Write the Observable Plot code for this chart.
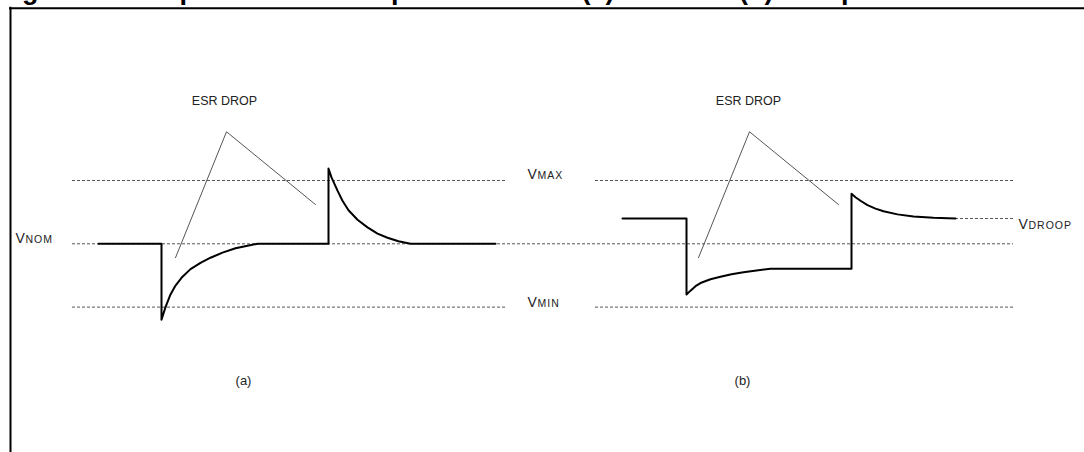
<!DOCTYPE html>
<html><head><meta charset="utf-8">
<script src="https://cdn.jsdelivr.net/npm/d3@7"></script>
<script src="https://cdn.jsdelivr.net/npm/@observablehq/plot@0.6"></script>
<style>
body{margin:0;background:#fff;overflow:hidden;}
#wrap{position:relative;width:1084px;height:452px;overflow:hidden;background:#fff;}
#title{position:absolute;left:-2px;top:-23.5px;font:bold 27px "Liberation Sans",Arial,sans-serif;line-height:27px;white-space:nowrap;color:#000;z-index:2;}
#chart{position:absolute;left:0;top:0;}
</style></head><body>
<div id="wrap">
<div id="title">Figure 12. Output transient response without (a) and with (b) droop</div>
<div id="chart"></div>
</div>
<script>
// ---- data (time in arbitrary units, voltage relative to VNOM, VMAX=+1, VMIN=-1) ----
const tA = [98,161,161,165,170,175,182,190,200,210,222,235,247,257,328,328,331,337,342,348,357,367,377,387,398,410,495];
const vA = [0,0,-1.2,-1.0,-0.8,-0.66,-0.52,-0.40,-0.30,-0.22,-0.14,-0.07,-0.03,0,0,1.19,1.05,0.84,0.68,0.53,0.38,0.26,0.16,0.095,0.04,0,0];
const tB = [622,686,686,690,695,700,710,720,731,743,756,770,851,851,855,860,867,875,883,897,913,933,955];
const vB = [0.40,0.40,-0.80,-0.74,-0.67,-0.62,-0.56,-0.52,-0.48,-0.45,-0.42,-0.395,-0.395,0.79,0.735,0.68,0.61,0.555,0.515,0.465,0.43,0.41,0.40];
const esrTA = [175,226,315], esrVA = [-0.22,1.77,0.62];
const esrTB = [698,749,838], esrVB = [-0.22,1.77,0.62];
const levelName = ["MAX","NOM","MIN","DROOP"];
const levelV = [1, 0, -1, 0.40];
const levelLabelT = [527, 15, 527, 1018];
const dashLevel = [1, 1, 0, -1, -1, 0.40];
const dashT1 = [72, 595, 72, 72, 595, 955];
const dashT2 = [507, 1013, 1013, 507, 1013, 1013];
const esrLabel = ["ESR DROP","ESR DROP"], esrLabelT = [224, 748], esrLabelV = [2.26, 2.26];
const panelLabel = ["(a)","(b)"], panelT = [243, 742], panelV = [-2.16, -2.16];
const frameTopV = 3.722, frameLeftT = 10;

// ---- build tables ----
const W = 1084, H = 452, pxPerV = 63.3, nomPx = 243.3;
const waveA = tA.map((t,i)=>({t, v:vA[i]}));
const waveB = tB.map((t,i)=>({t, v:vB[i]}));
const esrA = esrTA.map((t,i)=>({t, v:esrVA[i]}));
const esrB = esrTB.map((t,i)=>({t, v:esrVB[i]}));
const dashes = dashLevel.map((v,i)=>({v, t1:dashT1[i], t2:dashT2[i]}));
const labelDy = {MAX:-6, NOM:-5, MIN:-5, DROOP:6};
const font = "Liberation Sans, Arial, Helvetica, sans-serif";

const marks = [
  Plot.ruleY([frameTopV], {x1: frameLeftT - 1, x2: W, stroke: "#000", strokeWidth: 2}),
  Plot.ruleX([frameLeftT], {y1: frameTopV + 0.016, y2: (nomPx - H)/pxPerV, stroke: "#000", strokeWidth: 2}),
  Plot.ruleY(dashes, {y: "v", x1: "t1", x2: "t2", stroke: "#555", strokeWidth: 1, strokeDasharray: "3,2"}),
  Plot.line(esrA, {x: "t", y: "v", stroke: "#555", strokeWidth: 1}),
  Plot.line(esrB, {x: "t", y: "v", stroke: "#555", strokeWidth: 1}),
  Plot.line(waveA, {x: "t", y: "v", stroke: "#000", strokeWidth: 2, curve: "linear"}),
  Plot.line(waveB, {x: "t", y: "v", stroke: "#000", strokeWidth: 2, curve: "linear"}),
  Plot.text(esrLabel.map((s,i)=>({s, t:esrLabelT[i], v:esrLabelV[i]})), {x:"t", y:"v", text:"s", fontSize: 12.5, fill:"#222", fontFamily: font}),
  Plot.text(panelLabel.map((s,i)=>({s, t:panelT[i], v:panelV[i]})), {x:"t", y:"v", text:"s", fontSize: 13, fill:"#222", fontFamily: font})
];
levelName.forEach((name,i)=>{
  const d = [{t: levelLabelT[i], v: levelV[i], s: name}];
  marks.push(Plot.text(d, {x:"t", y:"v", text: ()=>"V", textAnchor:"start", fontSize: 14, fill:"#222", fontFamily: font, dy: labelDy[name]}));
  marks.push(Plot.text(d, {x:"t", y:"v", text:"s", textAnchor:"start", fontSize: 10.5, fill:"#222", fontFamily: font, dx: 10, dy: labelDy[name] + 1.3, className: "sub"}));
});

const chart = Plot.plot({
  width: W, height: H,
  margin: 0,
  x: {domain: [0, W], range: [0, W], axis: null},
  y: {domain: [(nomPx - H)/pxPerV, nomPx/pxPerV], range: [H, 0], axis: null},
  style: {background: "transparent", overflow: "hidden"},
  marks
});
d3.select(chart).selectAll("g.sub text").attr("letter-spacing", "1px");
document.getElementById("chart").appendChild(chart);
</script>
</body></html>
